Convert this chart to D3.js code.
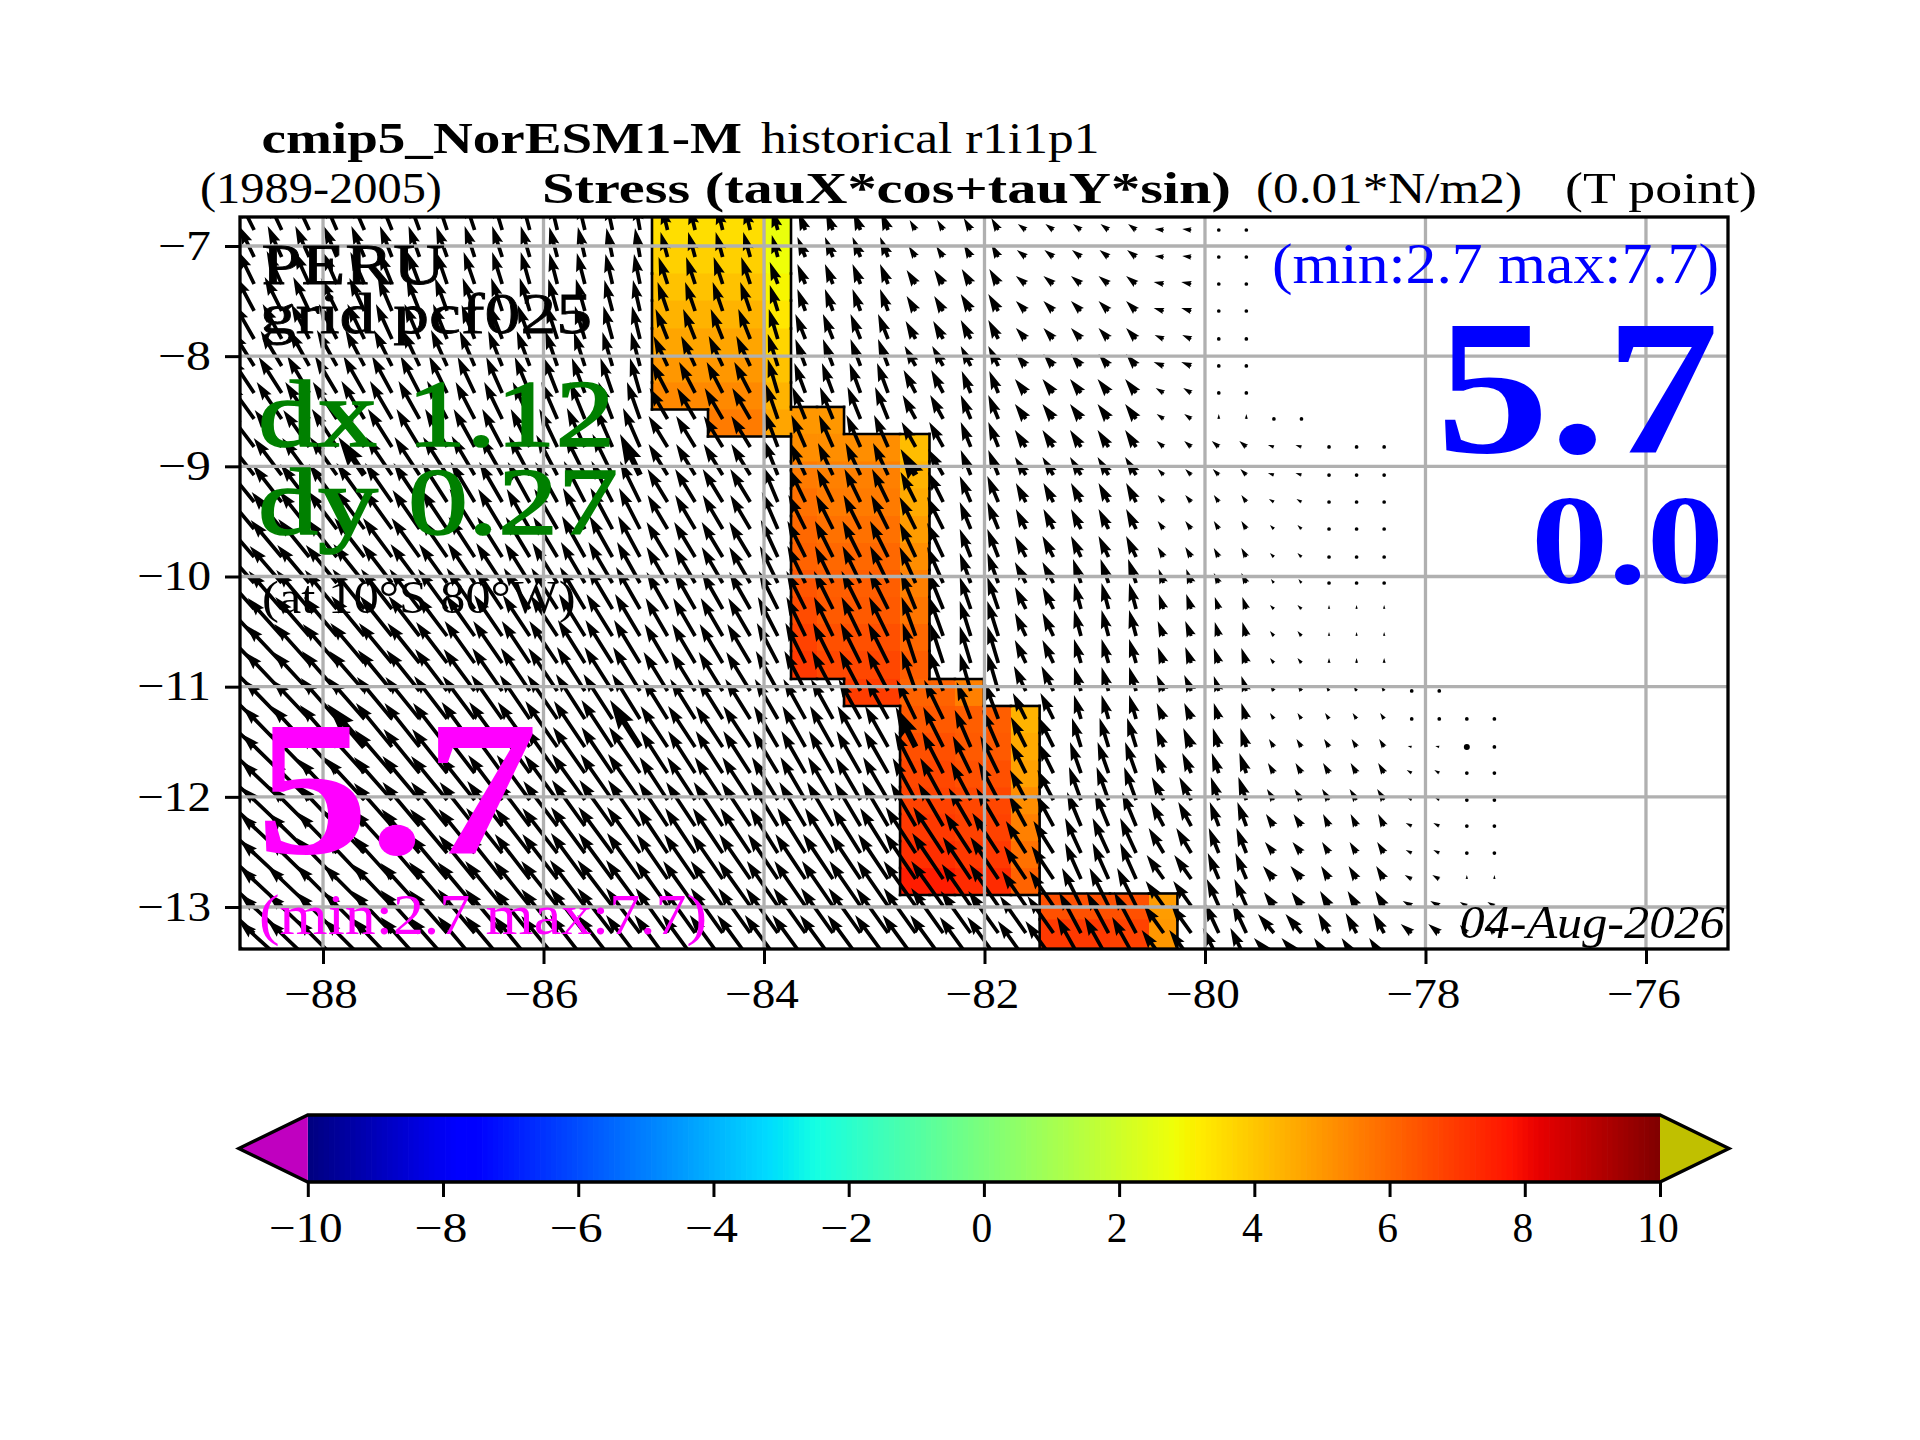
<!DOCTYPE html>
<html><head><meta charset="utf-8">
<script src="https://cdn.jsdelivr.net/npm/d3@7"></script>
<style>html,body{margin:0;padding:0;background:#fff}svg{display:block}text{font-family:"Liberation Serif",serif}</style>
</head><body><svg id="c" width="1920" height="1440"></svg>
<script>
// tick labels
const xTicks=[-88,-86,-84,-82,-80,-78,-76];
const yTicks=[-7,-8,-9,-10,-11,-12,-13];
const cbTicks=[-10,-8,-6,-4,-2,0,2,4,6,8,10];
// arrow grid (degrees)
const lons=[-88.625,-88.375,-88.125,-87.875,-87.625,-87.375,-87.125,-86.875,-86.625,-86.375,-86.125,-85.875,-85.625,-85.375,-85.125,-84.875,-84.625,-84.375,-84.125,-83.875,-83.625,-83.375,-83.125,-82.875,-82.625,-82.375,-82.125,-81.875,-81.625,-81.375,-81.125,-80.875,-80.625,-80.375,-80.125,-79.875,-79.625,-79.375,-79.125,-78.875,-78.625,-78.375,-78.125,-77.875,-77.625,-77.375];
const lats=[-6.855,-7.1,-7.345,-7.59,-7.844,-8.089,-8.334,-8.57,-8.824,-9.079,-9.324,-9.569,-9.823,-10.059,-10.295,-10.54,-10.785,-11.039,-11.293,-11.547,-11.784,-12.029,-12.265,-12.51,-12.746,-12.991,-13.236,-13.481];
// stress components (0.001 N/m2), one row per latitude, land columns left out
const tauU=[
[-15,-14,-14,-13,-13,-12,-11,-10,-10,-9,-8,-7,-7,-6,-5,-6,-6,-6,-6,-6,-7,-7,-7,-7,-6,-6,-7,-7,-8,-8,-8,-8,-8,-9,-9,0,0],
[-15,-14,-14,-13,-13,-12,-11,-11,-10,-10,-9,-8,-7,-6,-5,-7,-7,-7,-7,-6,-8,-8,-8,-8,-7,-7,-7,-7,-9,-9,-9,-9,-9,-9,-9,0,0],
[-16,-15,-15,-14,-14,-13,-12,-11,-11,-10,-9,-8,-8,-7,-6,-9,-9,-9,-9,-8,-8,-8,-8,-8,-9,-9,-9,-9,-10,-10,-10,-10,-10,-10,-10,0,0],
[-18,-17,-16,-16,-15,-14,-13,-12,-12,-11,-10,-9,-9,-8,-7,-10,-10,-10,-10,-8,-8,-8,-8,-8,-9,-9,-10,-10,-10,-10,-10,-10,-10,-10,-10,0,0],
[-20,-19,-18,-18,-17,-16,-15,-14,-13,-13,-12,-11,-10,-9,-8,-12,-12,-12,-12,-9,-10,-10,-10,-10,-10,-10,-10,-10,-10,-10,-10,-10,-10,-9,-9,0,0],
[-22,-21,-20,-20,-19,-18,-17,-16,-15,-14,-13,-12,-11,-10,-9,-14,-14,-14,-14,-10,-10,-10,-10,-10,-11,-11,-10,-10,-10,-10,-10,-10,-10,-10,-10,0,0],
[-24,-23,-22,-22,-21,-20,-19,-18,-17,-16,-15,-14,-13,-12,-10,-16,-16,-16,-16,-10,-11,-11,-11,-11,-12,-12,-9,-9,-11,-11,-11,-11,-11,-8,-8,0,0],
[-26,-25,-24,-24,-23,-22,-21,-20,-19,-18,-17,-16,-15,-14,-13,-18,-18,-18,-18,-12,-13,-13,-13,-13,-13,-13,-10,-10,-11,-11,-11,-11,-11,-7,-7,0,0,0,0],
[-28,-27,-26,-25,-25,-24,-23,-22,-21,-20,-19,-18,-18,-17,-17,-19,-19,-19,-19,-13,-14,-14,-14,-14,-14,-14,-10,-10,-11,-11,-11,-11,-11,-7,-7,-7,-7,-6,-6,0,0,0],
[-29,-28,-27,-27,-26,-26,-25,-24,-23,-22,-21,-21,-20,-20,-20,-19,-19,-19,-19,-14,-15,-15,-15,-15,-15,-15,-10,-10,-11,-11,-11,-11,-11,-6,-6,-6,-6,-6,-6,0,0,0],
[-30,-29,-29,-28,-28,-27,-26,-25,-24,-23,-22,-22,-21,-21,-20,-20,-20,-20,-20,-15,-16,-16,-16,-16,-15,-15,-11,-11,-10,-10,-10,-10,-10,-6,-6,-5,-5,-5,-5,0,0,0],
[-31,-30,-30,-29,-29,-28,-27,-26,-25,-24,-23,-23,-22,-22,-21,-20,-20,-20,-20,-16,-17,-17,-17,-17,-16,-16,-11,-11,-10,-10,-10,-10,-10,-6,-6,-5,-5,-4,-4,0,0,0],
[-32,-31,-31,-30,-30,-29,-28,-27,-26,-25,-24,-24,-23,-23,-22,-21,-21,-21,-21,-17,-18,-18,-18,-18,-16,-16,-11,-11,-11,-11,-10,-10,-10,-6,-6,-5,-5,-4,-4,0,0,0],
[-33,-32,-32,-31,-31,-30,-29,-28,-27,-26,-25,-25,-24,-24,-23,-21,-21,-21,-21,-18,-18,-18,-18,-18,-16,-16,-11,-11,-11,-11,-8,-8,-8,-5,-5,-5,-5,-3,-3,0,0,0],
[-34,-33,-33,-32,-32,-31,-30,-29,-28,-27,-26,-26,-25,-25,-24,-21,-21,-21,-21,-19,-19,-19,-19,-19,-15,-15,-11,-11,-11,-11,-7,-7,-7,-5,-5,-4,-4,-4,-4,0,0,0],
[-35,-34,-34,-33,-33,-32,-31,-30,-29,-28,-27,-27,-26,-26,-25,-22,-22,-22,-22,-20,-19,-19,-19,-19,-14,-14,-11,-11,-11,-11,-7,-7,-7,-6,-6,-4,-4,-4,-4,0,0,0],
[-37,-36,-35,-34,-34,-33,-32,-31,-30,-29,-28,-28,-27,-27,-26,-23,-23,-23,-23,-21,-20,-20,-20,-20,-13,-13,-11,-11,-11,-11,-7,-7,-7,-6,-6,-5,-5,-4,-4,0,0,0],
[-38,-37,-36,-35,-35,-34,-33,-32,-31,-30,-29,-29,-28,-28,-27,-24,-24,-24,-24,-22,-21,-21,-21,-21,-14,-14,-11,-11,-12,-12,-7,-7,-7,-7,-7,-5,-5,-4,-4,-3,-3,-3,0,0],
[-39,-38,-37,-36,-36,-35,-34,-33,-32,-31,-30,-30,-29,-29,-28,-25,-25,-25,-25,-23,-22,-22,-22,-22,-19,-19,-14,-14,-13,-13,-7,-7,-7,-7,-7,-5,-5,-4,-4,-4,-4,-4,-3,-3,0,0],
[-40,-39,-38,-37,-37,-36,-35,-34,-33,-33,-32,-32,-31,-31,-30,-27,-27,-27,-27,-24,-23,-23,-23,-23,-20,-20,-16,-16,-15,-15,-9,-9,-9,-8,-8,-6,-6,-5,-5,-5,-5,-5,-4,-4,0,0],
[-41,-40,-39,-38,-38,-37,-36,-35,-34,-33,-32,-32,-32,-31,-31,-27,-27,-27,-27,-25,-24,-24,-24,-24,-21,-21,-18,-18,-15,-15,-11,-11,-11,-9,-9,-7,-7,-6,-6,-6,-6,-6,-5,-5,0,0],
[-42,-41,-40,-39,-39,-38,-37,-36,-35,-34,-33,-33,-33,-32,-32,-28,-28,-28,-28,-26,-25,-25,-25,-25,-23,-23,-20,-20,-16,-16,-12,-12,-12,-12,-12,-8,-8,-7,-7,-7,-7,-7,-4,-4,0,0],
[-42,-41,-40,-39,-39,-38,-37,-36,-35,-35,-34,-34,-33,-33,-32,-29,-29,-29,-29,-27,-26,-26,-26,-26,-25,-25,-22,-22,-17,-17,-14,-14,-14,-13,-13,-9,-9,-8,-8,-6,-6,-6,-6,-6,0,0],
[-43,-42,-41,-40,-40,-39,-38,-37,-36,-36,-35,-35,-34,-34,-33,-30,-30,-30,-30,-28,-28,-28,-28,-28,-30,-30,-26,-26,-20,-20,-16,-16,-16,-15,-15,-10,-10,-9,-9,-7,-7,-7,-6,-6,0,0],
[-43,-42,-41,-40,-40,-39,-38,-37,-36,-36,-35,-35,-34,-34,-33,-31,-31,-31,-31,-30,-30,-30,-30,-30,-31,-31,-28,-28,-22,-22,-16,-16,-16,-17,-17,-11,-11,-11,-11,-8,-8,-8,-7,-7,0,0],
[-43,-42,-42,-41,-41,-40,-39,-38,-37,-37,-36,-36,-35,-35,-34,-32,-32,-32,-32,-31,-31,-31,-31,-31,-32,-32,-29,-29,-24,-24,-19,-19,-19,-18,-18,-12,-12,-10,-10,-9,-9,-9,-9,-9,-7,-7],
[-43,-42,-42,-41,-41,-40,-39,-38,-37,-37,-36,-36,-35,-35,-34,-32,-32,-32,-32,-32,-32,-32,-32,-32,-32,-32,-30,-30,-26,-26,-22,-22,-22,-20,-20,-14,-14,-16,-16,-11,-11,-11,-11,-11,-7,-7],
[-44,-43,-42,-41,-41,-40,-39,-38,-37,-37,-36,-36,-35,-35,-34,-33,-33,-33,-33,-33,-33,-33,-33,-33,-33,-33,-31,-31,-28,-28,-24,-24,-24,-22,-22,-16,-16,-20,-20,-15,-15,-15,-12,-12,-9,-9]
];
const tauV=[
[30,30,30,30,30,30,30,30,30,30,30,29,29,28,28,24,24,24,24,21,18,18,18,18,10,10,12,12,6,6,6,6,6,1,1,0,0],
[31,31,31,31,31,31,31,31,31,31,31,30,30,29,29,25,25,25,25,22,20,20,20,20,11,11,13,13,7,7,7,7,7,1,1,0,0],
[33,33,33,32,32,32,32,32,32,32,32,31,31,30,30,27,27,27,27,22,20,20,20,20,14,14,15,15,8,8,8,8,8,2,2,0,0],
[34,34,34,33,33,33,33,33,33,33,33,32,32,31,31,29,29,29,29,26,22,22,22,22,15,15,17,17,10,10,10,10,10,3,3,0,0],
[35,35,35,35,35,35,35,35,34,34,34,34,33,33,33,30,30,30,30,30,25,25,25,25,18,18,19,19,11,11,11,11,11,4,4,0,0],
[35,35,36,36,36,36,36,36,35,35,35,35,34,34,34,30,30,30,30,32,27,27,27,27,20,20,20,20,12,12,12,12,12,4,4,2,2],
[36,36,37,37,37,37,37,37,36,36,36,36,35,35,35,31,31,31,31,34,30,30,30,30,23,23,22,22,14,14,14,14,14,5,5,3,3],
[36,37,37,37,38,38,38,38,37,37,37,37,37,37,37,31,31,31,31,35,32,32,32,32,24,24,24,24,15,15,15,15,15,5,5,5,5,0,0],
[37,37,37,38,38,38,38,38,38,38,38,38,39,39,39,31,31,31,31,35,32,32,32,32,25,25,25,25,17,17,17,17,17,6,6,6,6,2,2,0,0,0],
[37,37,37,38,38,38,38,38,39,39,39,40,40,41,41,31,31,31,31,35,32,32,32,32,26,26,25,25,18,18,18,18,18,6,6,6,6,2,2,0,0,0],
[37,37,38,38,39,39,39,39,40,40,40,40,41,41,41,33,33,33,33,36,33,33,33,33,30,30,26,26,19,19,19,19,19,7,7,7,7,3,3,0,0,0],
[37,37,38,38,39,39,39,39,40,40,40,40,41,41,41,34,34,34,34,37,34,34,34,34,32,32,27,27,20,20,20,20,20,8,8,8,8,4,4,0,0,0],
[37,37,38,38,39,39,39,39,40,40,40,40,41,41,41,35,35,35,35,37,36,36,36,36,34,34,28,28,21,21,21,21,21,10,10,9,9,4,4,0,0,0],
[37,37,38,38,39,39,39,39,40,40,40,40,41,41,41,36,36,36,36,37,37,37,37,37,36,36,30,30,21,21,24,24,24,14,14,10,10,4,4,0,0,0],
[38,38,39,39,40,40,40,40,41,41,41,41,42,42,42,37,37,37,37,38,38,38,38,38,37,37,32,32,22,22,26,26,26,15,15,12,12,4,4,4,4,4],
[38,38,39,39,40,40,40,40,41,41,41,41,42,42,42,38,38,38,38,39,39,39,39,39,39,39,35,35,23,23,26,26,26,15,15,14,14,5,5,4,4,4],
[38,38,39,39,40,40,40,41,42,42,42,42,43,43,43,39,39,39,39,40,40,40,40,40,40,40,37,37,23,23,24,24,24,16,16,15,15,5,5,5,5,5],
[38,39,39,40,40,41,41,42,42,43,43,43,44,44,44,39,39,39,39,40,40,40,40,40,40,40,38,38,25,25,24,24,24,16,16,15,15,6,6,5,5,5,1,1],
[38,39,39,41,41,42,42,43,43,44,44,44,45,45,45,40,40,40,40,40,40,40,40,40,39,39,37,37,26,26,24,24,24,16,16,16,16,6,6,6,6,6,1,1,0,0],
[38,40,41,42,43,44,44,44,45,45,45,46,46,47,47,41,41,41,41,41,41,41,41,41,40,40,37,37,30,30,29,29,29,19,19,19,19,8,8,8,8,8,1,1,0,0],
[38,39,40,41,42,43,44,44,44,45,45,45,46,46,46,42,42,42,42,42,42,42,42,42,41,41,37,37,30,30,31,31,31,20,20,20,20,10,10,10,10,10,3,3,0,0],
[38,39,40,41,42,43,44,44,44,45,45,45,46,46,46,43,43,43,43,43,43,43,43,43,42,42,38,38,30,30,33,33,33,23,23,23,23,11,11,11,11,11,2,2,1,1],
[38,39,40,41,42,43,44,44,44,45,45,45,46,46,46,44,44,44,44,44,44,44,44,44,43,43,38,38,31,31,34,34,34,24,24,24,24,12,12,12,12,12,3,3,3,3],
[38,39,40,41,42,43,44,44,44,45,45,45,46,46,46,45,45,45,45,45,45,45,45,45,46,46,40,40,32,32,35,35,35,25,25,25,25,11,11,11,11,11,3,3,3,3],
[38,39,40,41,42,43,44,44,44,45,45,45,46,46,46,45,45,45,45,45,45,45,45,45,46,46,42,42,33,33,36,36,36,24,24,26,26,13,13,13,13,13,4,4,4,4],
[38,39,40,41,41,42,43,44,44,45,45,45,46,46,46,45,45,45,45,45,45,45,45,45,45,45,42,42,35,35,38,38,38,25,25,27,27,14,14,15,15,15,5,5,4,4],
[38,39,40,41,41,42,43,43,44,44,44,44,45,45,45,45,45,45,45,45,45,45,45,45,45,45,42,42,37,37,41,41,41,28,28,30,30,19,19,20,20,20,9,9,8,8],
[38,39,40,41,41,42,43,43,44,44,44,44,45,45,45,45,45,45,45,45,45,45,45,45,45,45,43,43,39,39,43,43,43,30,30,32,32,22,22,22,22,22,12,12,10,10]
];
// heavier arrows: [row, column]
const boldArrows=[[9,4],[9,14],[9,24],[19,4],[19,14],[19,24],[19,34],[19,44]];
// colour mesh
const cellLonEdges=[-85.016,-84.508,-83.982,-83.755,-83.519,-83.274,-82.766,-82.499,-82.268,-82.005,-81.76,-81.5,-80.862,-80.508,-80.25];
const cellLatEdges=[-6.6,-6.982,-7.227,-7.472,-7.726,-7.971,-8.216,-8.461,-8.706,-8.956,-9.201,-9.451,-9.696,-9.941,-10.186,-10.431,-10.676,-10.93,-11.175,-11.42,-11.666,-11.911,-12.156,-12.401,-12.646,-12.891,-13.127,-13.6];
const cellLatShift=[-0.023,-0.023,-0.023,0,0,0,0,0,0,0,0,0.014,0.014,0.014];
const _=null;
const cellValues=[
[3.5,3.5,2.7,_,_,_,_,_,_,_,_,_,_,_],
[3.8,3.8,2.8,_,_,_,_,_,_,_,_,_,_,_],
[4.1,4.1,3.0,_,_,_,_,_,_,_,_,_,_,_],
[4.4,4.4,3.3,_,_,_,_,_,_,_,_,_,_,_],
[4.7,4.7,3.7,_,_,_,_,_,_,_,_,_,_,_],
[5.0,5.0,4.1,_,_,_,_,_,_,_,_,_,_,_],
[5.3,5.3,4.4,_,_,_,_,_,_,_,_,_,_,_],
[_,5.6,4.7,5.0,5.0,_,_,_,_,_,_,_,_,_],
[_,_,_,5.2,5.2,5.2,4.2,_,_,_,_,_,_,_],
[_,_,_,5.6,5.5,5.5,4.4,_,_,_,_,_,_,_],
[_,_,_,5.8,5.6,5.6,4.6,_,_,_,_,_,_,_],
[_,_,_,6.0,5.8,5.8,4.9,_,_,_,_,_,_,_],
[_,_,_,6.1,6.0,6.0,5.2,_,_,_,_,_,_,_],
[_,_,_,6.4,6.2,6.2,5.5,_,_,_,_,_,_,_],
[_,_,_,6.6,6.3,6.3,5.7,_,_,_,_,_,_,_],
[_,_,_,6.8,6.5,6.5,6.0,_,_,_,_,_,_,_],
[_,_,_,7.0,6.7,6.7,6.2,_,_,_,_,_,_,_],
[_,_,_,_,_,6.9,6.1,6.1,5.5,_,_,_,_,_],
[_,_,_,_,_,_,6.3,6.3,6.2,6.2,4.4,_,_,_],
[_,_,_,_,_,_,6.5,6.5,6.3,6.3,4.6,_,_,_],
[_,_,_,_,_,_,6.7,6.7,6.5,6.5,4.8,_,_,_],
[_,_,_,_,_,_,6.8,6.8,6.7,6.7,5.2,_,_,_],
[_,_,_,_,_,_,7.0,7.0,6.8,6.8,5.5,_,_,_],
[_,_,_,_,_,_,7.2,7.2,7.0,7.0,5.8,_,_,_],
[_,_,_,_,_,_,7.6,7.6,7.3,7.3,6.1,_,_,_],
[_,_,_,_,_,_,_,_,_,_,_,6.5,6.5,4.9],
[_,_,_,_,_,_,_,_,_,_,_,7.0,6.8,5.0]
];
// jet colormap stops
const jetR=[[0,0],[0.35,0],[0.66,1],[0.89,1],[1,0.5]];
const jetG=[[0,0],[0.125,0],[0.375,1],[0.64,1],[0.91,0],[1,0]];
const jetB=[[0,0.5],[0.11,1],[0.34,1],[0.65,0],[1,0]];

const svg=d3.select('#c');
const x=d3.scaleLinear().domain([-88.753,-75.256]).range([240,1728]);
const y=d3.scaleLinear().domain([-6.737,-13.381]).range([217,949]);
const stress=d3.scaleLinear().domain([0,100]).range([0,100]);
const cb=d3.scaleLinear().domain([-10,10]).range([307.8,1660]);
const chan=s=>d3.scaleLinear().domain(s.map(d=>d[0])).range(s.map(d=>d[1]));
const rS=chan(jetR),gS=chan(jetG),bS=chan(jetB);
const jet=v=>{const t=(v+10)/20;return d3.rgb(255*rS(t),255*gS(t),255*bS(t)).formatHex();};

svg.append('defs').append('clipPath').attr('id','ax').append('rect')
  .attr('x',240).attr('y',217).attr('width',1488).attr('height',732);
const plot=svg.append('g').attr('clip-path','url(#ax)');

// cells
const cellG=plot.append('g');
const has=(r,c)=>r>=0&&r<cellValues.length&&c>=0&&c<14&&cellValues[r][c]!==null;
const cellBox=(r,c)=>({x0:x(cellLonEdges[c]),x1:x(cellLonEdges[c+1]),
  y0:y(cellLatEdges[r]+cellLatShift[c]),y1:y(cellLatEdges[r+1]+cellLatShift[c])});
cellValues.forEach((row,r)=>row.forEach((v,c)=>{
  if(v===null)return;const b=cellBox(r,c);
  cellG.append('rect').attr('x',b.x0).attr('y',b.y0).attr('width',b.x1-b.x0+0.6)
    .attr('height',b.y1-b.y0+0.6).attr('fill',jet(v));
}));
// outline of coloured area
const edges=[];
cellValues.forEach((row,r)=>row.forEach((v,c)=>{
  if(v===null)return;const b=cellBox(r,c);
  if(!has(r-1,c))edges.push([b.x0,b.y0,b.x1,b.y0]);
  if(!has(r+1,c))edges.push([b.x0,b.y1,b.x1,b.y1]);
  if(!has(r,c-1))edges.push([b.x0,b.y0,b.x0,b.y1]);
  if(!has(r,c+1))edges.push([b.x1,b.y0,b.x1,b.y1]);
}));
cellG.selectAll('line').data(edges).join('line')
  .attr('x1',d=>d[0]).attr('y1',d=>d[1]).attr('x2',d=>d[2]).attr('y2',d=>d[3])
  .attr('stroke','#000').attr('stroke-width',2.6).attr('stroke-linecap','square');

// quiver
function arrowPath(L,w){
  const hl=5*w,ha=4.5*w,hw=1.5*w,sw=w/2;
  const f=L<hl?L/hl:1;
  const pts=[[0,-sw*f],[L-ha*f,-sw*f],[L-hl*f,-hw*f],[L,0],[L-hl*f,hw*f],[L-ha*f,sw*f],[0,sw*f]];
  return 'M'+pts.map(p=>p[0].toFixed(2)+','+p[1].toFixed(2)).join('L')+'Z';
}
const isBold=(r,c)=>boldArrows.some(b=>b[0]===r&&b[1]===c);
const arrowG=plot.append('g');
lats.forEach((lat,r)=>tauU[r].forEach((u,c)=>{
  const v=tauV[r][c],bold=isBold(r,c),w=bold?6:3.7;
  const dx=stress(u),dy=stress(v),L=Math.hypot(dx,dy);
  const tx=x(lons[c]),ty=y(lat);
  if(L<w){arrowG.append('circle').attr('cx',tx).attr('cy',ty).attr('r',w/2).attr('fill','#000');return;}
  arrowG.append('path').attr('d',arrowPath(L,w)).attr('fill','#000')
    .attr('transform',`translate(${tx},${ty}) rotate(${Math.atan2(-dy,dx)*180/Math.PI})`);
}));

// grid
const gridG=plot.append('g').attr('stroke','#b0b0b0').attr('stroke-width',3.3);
gridG.selectAll('.gx').data(xTicks).join('line').attr('class','gx').attr('x1',d=>x(d)).attr('x2',d=>x(d)).attr('y1',217).attr('y2',949);
gridG.selectAll('.gy').data(yTicks).join('line').attr('class','gy').attr('y1',d=>y(d)).attr('y2',d=>y(d)).attr('x1',240).attr('x2',1728);

// axes
const fs=41.5;
const tickWidth=t=>(t<0?0.778:0)*fs+0.5*fs*String(Math.abs(t)).length;
const tickFmt=d3.format('d');
function styleAxis(g,shift){
  g.select('.domain').remove();
  g.selectAll('line').attr('stroke','#000').attr('stroke-width',3);
  g.selectAll('text').attr('font-size',fs).attr('fill','#000').attr('font-family','Liberation Serif')
   .attr('textLength',d=>tickWidth(d)).attr('lengthAdjust','spacingAndGlyphs').attr('dx',shift||0);
}
svg.append('g').attr('transform','translate(0,949)')
  .call(d3.axisBottom(x).tickValues(xTicks).tickFormat(tickFmt).tickSize(15).tickPadding(14.6)).call(styleAxis,-2.5);
svg.append('g').attr('transform','translate(240,0)')
  .call(d3.axisLeft(y).tickValues(yTicks).tickFormat(tickFmt).tickSize(15).tickPadding(14)).call(styleAxis,0);
svg.append('rect').attr('x',240).attr('y',217).attr('width',1488).attr('height',732)
  .attr('fill','none').attr('stroke','#000').attr('stroke-width',3.3);

// texts
function label(t,x0,x1,base,size,o={}){
  const e=svg.append('text').attr('x',x0).attr('y',base).attr('font-size',size)
    .attr('textLength',x1-x0).attr('lengthAdjust','spacingAndGlyphs')
    .attr('fill',o.fill||'#000').text(t);
  if(o.bold)e.attr('font-weight','bold');
  if(o.italic)e.attr('font-style','italic');
  if(o.heavy)e.attr('stroke',o.fill||'#000').attr('stroke-width',o.heavy);
}
label('cmip5_NorESM1-M',261.5,742,153,44,{bold:true});
label('historical r1i1p1',761,1099.5,153,44);
label('(1989-2005)',200,442,203,44);
label('Stress (tauX*cos+tauY*sin)',542,1231,203,44,{bold:true});
label('(0.01*N/m2)',1256,1522,203,44);
label('(T point)',1565,1757,203,44);
label('PERU',261.5,445,284,58,{heavy:0.8});
label('grid pcf025',260,592,333,58,{heavy:0.8});
const green='#008000',blue='#0000ff',mag='#ff00ff';
label('dx 1.12',258,615,445.7,96,{fill:green,heavy:1.6});
label('dy 0.27',258,618,534,96,{fill:green,heavy:1.6});
label('(at 10°S 80°W)',262,575.5,613,46);
label('(min:2.7 max:7.7)',1272,1719,283,58,{fill:blue});
label('5.7',1436,1719,451.7,192,{fill:blue,bold:true});
label('0.0',1531,1724,583,128,{fill:blue,bold:true});
label('5.7',256,538,853,192,{fill:mag,bold:true});
label('(min:2.7 max:7.7)',259,707,934,58,{fill:mag});
label('04-Aug-2026',1459.5,1724.5,938,46,{italic:true});

// colour bar
const cbTop=1115,cbBot=1182,cbMid=(cbTop+cbBot)/2,ext=69;
const steps=d3.range(256).map(i=>-10+20*i/256);
svg.append('g').selectAll('rect').data(steps).join('rect')
  .attr('x',d=>cb(d)).attr('y',cbTop).attr('width',cb(20/256-10)-cb(-10)+0.7).attr('height',cbBot-cbTop)
  .attr('fill',d=>jet(d+10/256));
svg.append('path').attr('d',`M${cb(-10)},${cbTop}L${cb(-10)-ext},${cbMid}L${cb(-10)},${cbBot}Z`).attr('fill','#c000c0');
svg.append('path').attr('d',`M${cb(10)},${cbTop}L${cb(10)+ext},${cbMid}L${cb(10)},${cbBot}Z`).attr('fill','#c0c000');
svg.append('path').attr('d',`M${cb(-10)},${cbTop}L${cb(10)},${cbTop}L${cb(10)+ext},${cbMid}L${cb(10)},${cbBot}L${cb(-10)},${cbBot}L${cb(-10)-ext},${cbMid}Z`)
  .attr('fill','none').attr('stroke','#000').attr('stroke-width',3.3);
svg.append('g').attr('transform',`translate(0,${cbBot})`)
  .call(d3.axisBottom(cb).tickValues(cbTicks).tickFormat(tickFmt).tickSize(15).tickPadding(15.6)).call(styleAxis,-2.5);
</script></body></html>
